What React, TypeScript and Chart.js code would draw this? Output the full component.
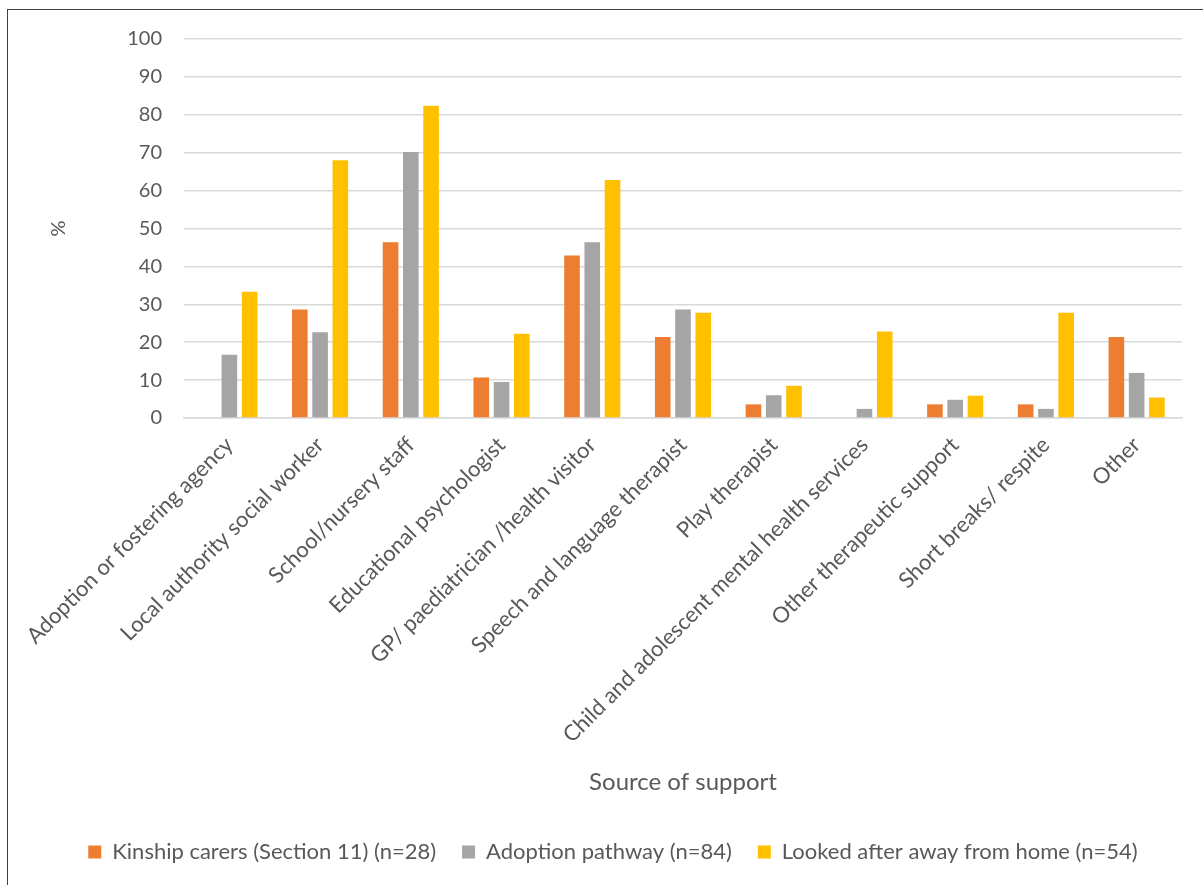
import React, { useEffect, useRef } from "react";
import { Chart, registerables } from "chart.js";

Chart.register(...registerables);

const categories = [
  "Adoption or fostering agency",
  "Local authority social worker",
  "School/nursery staff",
  "Educational psychologist",
  "GP/ paediatrician /health visitor",
  "Speech and language therapist",
  "Play therapist",
  "Child and adolescent mental health services",
  "Other therapeutic support",
  "Short breaks/ respite",
  "Other",
];

const kinshipCarers = [0, 28.6, 46.4, 10.7, 42.9, 21.4, 3.6, 0, 3.6, 3.6, 21.4];
const adoptionPathway = [16.7, 22.6, 70.2, 9.5, 46.4, 28.6, 6.0, 2.4, 4.8, 2.4, 11.9];
const lookedAfter = [33.3, 68.0, 82.4, 22.2, 62.8, 27.8, 8.5, 22.8, 5.9, 27.8, 5.4];

const seriesLabels = [
  "Kinship carers (Section 11) (n=28)",
  "Adoption pathway (n=84)",
  "Looked after away from home (n=54)",
];
const yTicks = [0, 10, 20, 30, 40, 50, 60, 70, 80, 90, 100];

const FONT = "Lato, 'Open Sans', sans-serif";
const TEXT = "#595959";

const legendShift = {
  id: "legendShift",
  afterLayout(chart: any) {
    const l = chart.legend;
    if (l) {
      l.left += 22;
      l.right += 22;
    }
  },
};

export default function App() {
  const ref = useRef<HTMLCanvasElement | null>(null);

  useEffect(() => {
    if (!ref.current) return;
    const chart = new Chart(ref.current, {
      type: "bar",
      data: {
        labels: categories,
        datasets: [
          { label: seriesLabels[0], data: kinshipCarers, backgroundColor: "#ED7D31" },
          { label: seriesLabels[1], data: adoptionPathway, backgroundColor: "#A5A5A5" },
          { label: seriesLabels[2], data: lookedAfter, backgroundColor: "#FFC000" },
        ],
      },
      plugins: [legendShift],
      options: {
        responsive: false,
        animation: false,
        devicePixelRatio: 1,
        layout: { padding: { top: 39, right: 21, left: 0, bottom: 12 } },
        datasets: {
          bar: { categoryPercentage: 0.67, barPercentage: 0.77 },
        },
        plugins: {
          tooltip: { enabled: false },
          legend: {
            position: "bottom",
            labels: {
              boxWidth: 13,
              boxHeight: 13,
              color: TEXT,
              font: { family: FONT, size: 22 },
              padding: 26,
            },
          },
        },
        scales: {
          x: {
            grid: { display: false, drawTicks: false },
            border: { display: true, color: "#D9D9D9", width: 1.5 },
            ticks: {
              color: TEXT,
              font: { family: FONT, size: 22 },
              maxRotation: 45,
              minRotation: 45,
              autoSkip: false,
              padding: 14,
            },
            title: {
              display: true,
              text: "Source of support",
              color: TEXT,
              font: { family: FONT, size: 24 },
              padding: { top: 0, bottom: 18 },
            },
            afterFit: (scale: any) => {
              scale.height = 397;
            },
          },
          y: {
            min: 0,
            max: 100,
            afterBuildTicks: (scale: any) => {
              scale.ticks = yTicks.map((v) => ({ value: v }));
            },
            grid: { color: "#D9D9D9", lineWidth: 1.5, drawTicks: false },
            border: { display: false },
            ticks: {
              color: TEXT,
              font: { family: FONT, size: 20 },
              padding: 22,
              stepSize: 10,
            },
            title: {
              display: true,
              text: "%",
              color: TEXT,
              font: { family: FONT, size: 20 },
              padding: { top: 47, bottom: 0 },
            },
            afterFit: (scale: any) => {
              scale.width = 184;
            },
          },
        },
      },
    });
    return () => chart.destroy();
  }, []);

  return (
    <div
      style={{
        position: "absolute",
        left: 0,
        top: 0,
        width: 1203,
        height: 885,
        overflow: "hidden",
        background: "#fff",
      }}
    >
      <div
        style={{
          position: "absolute",
          left: 7,
          top: 9,
          width: 1400,
          height: 1200,
          border: "1.5px solid #404040",
          boxSizing: "border-box",
        }}
      />
      <canvas
        ref={ref}
        width={1203}
        height={885}
        style={{ position: "absolute", left: 0, top: 0, width: 1203, height: 885 }}
      />
    </div>
  );
}
